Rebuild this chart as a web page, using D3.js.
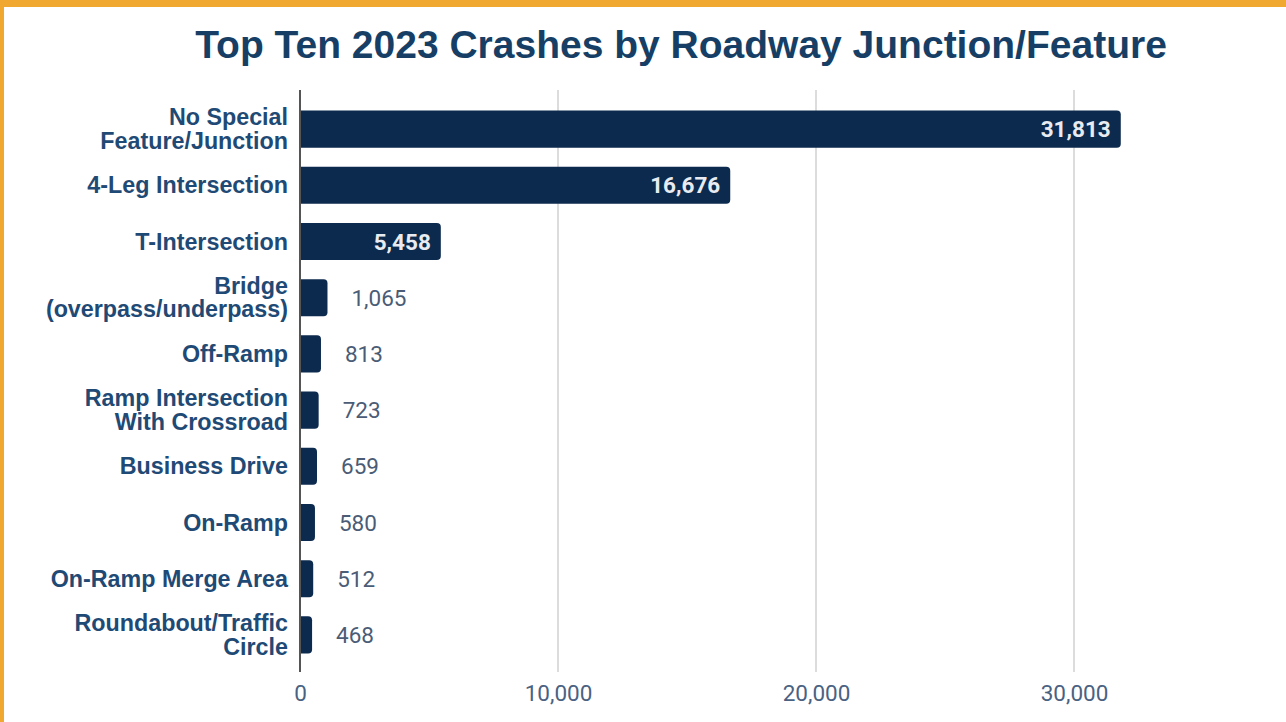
<!DOCTYPE html>
<html>
<head>
<meta charset="utf-8">
<script src="https://cdn.jsdelivr.net/npm/d3@7"></script>
<style>
  body { margin: 0; background: #fff; }
  svg { display: block; }
</style>
</head>
<body>
<div id="chart"></div>
<script>
// data
var categories = [
  ["No Special", "Feature/Junction"],
  ["4-Leg Intersection"],
  ["T-Intersection"],
  ["Bridge", "(overpass/underpass)"],
  ["Off-Ramp"],
  ["Ramp Intersection", "With Crossroad"],
  ["Business Drive"],
  ["On-Ramp"],
  ["On-Ramp Merge Area"],
  ["Roundabout/Traffic", "Circle"]
];
var crashes = [31813, 16676, 5458, 1065, 813, 723, 659, 580, 512, 468];
var xTicks = [0, 10000, 20000, 30000];

var svgWidth = 1286;
var svgHeight = 722;

var margin = { top: 90, right: 40, bottom: 50, left: 300 };
var height = 672 - margin.top;

var svg = d3.select("#chart")
  .append("svg")
  .attr("width", svgWidth)
  .attr("height", svgHeight);

// orange frame (top and left edges)
svg.append("rect").attr("x", 0).attr("y", 0).attr("width", svgWidth).attr("height", 7).attr("fill", "#f0a830");
svg.append("rect").attr("x", 0).attr("y", 0).attr("width", 4).attr("height", svgHeight).attr("fill", "#f0a830");

svg.append("text")
  .attr("x", 681)
  .attr("y", 58)
  .attr("text-anchor", "middle")
  .attr("font-family", "Liberation Sans, Arial, sans-serif")
  .attr("font-weight", "bold")
  .attr("font-size", "39px")
  .attr("fill", "#173f66")
  .text("Top Ten 2023 Crashes by Roadway Junction/Feature");

var chartGroup = svg.append("g")
  .attr("transform", `translate(${margin.left}, ${margin.top})`);

var xScale = d3.scaleLinear()
  .domain([0, 30000])
  .range([0, 774]);

var yScale = d3.scaleBand()
  .domain(d3.range(categories.length))
  .range([11, height - 9])
  .paddingInner(0.34)
  .paddingOuter(0.17);

// gridlines
chartGroup.selectAll("line.grid")
  .data(xTicks.slice(1))
  .enter()
  .append("line")
  .attr("class", "grid")
  .attr("x1", d => xScale(d))
  .attr("x2", d => xScale(d))
  .attr("y1", 0)
  .attr("y2", height)
  .attr("stroke", "#dcdcdc")
  .attr("stroke-width", 2);

// x tick labels
var bottomAxis = d3.axisBottom(xScale)
  .tickValues(xTicks)
  .tickFormat(d3.format(","))
  .tickSize(0)
  .tickPadding(13);

var xAxis = chartGroup.append("g")
  .attr("transform", `translate(0, ${height})`)
  .call(bottomAxis);
xAxis.select(".domain").remove();
xAxis.selectAll("text")
  .attr("font-family", "Roboto, sans-serif")
  .attr("font-size", "22.5px")
  .attr("fill", "#4a6282");

// bars with rounded right end
function barPath(d, i) {
  var y0 = yScale(i), h = yScale.bandwidth(), w = xScale(d), r = Math.min(4, w / 2);
  return `M0,${y0}H${w - r}Q${w},${y0} ${w},${y0 + r}V${y0 + h - r}Q${w},${y0 + h} ${w - r},${y0 + h}H0Z`;
}

chartGroup.selectAll("path.bar")
  .data(crashes)
  .enter()
  .append("path")
  .attr("class", "bar")
  .attr("d", barPath)
  .attr("fill", "#0c2a4d");

// value labels
chartGroup.selectAll("text.value")
  .data(crashes)
  .enter()
  .append("text")
  .attr("class", "value")
  .attr("x", d => d > 3000 ? xScale(d) - 10 : xScale(d) + 24)
  .attr("y", (d, i) => yScale(i) + yScale.bandwidth() / 2 + 8)
  .attr("text-anchor", d => d > 3000 ? "end" : "start")
  .attr("font-family", "Roboto, sans-serif")
  .attr("font-weight", d => d > 3000 ? "bold" : "normal")
  .attr("font-size", "22.5px")
  .attr("fill", d => d > 3000 ? "#e8ecf2" : "#4a5c76")
  .text(d => d3.format(",")(d));

// y axis line
chartGroup.append("line")
  .attr("x1", 0).attr("x2", 0)
  .attr("y1", 0).attr("y2", height)
  .attr("stroke", "#555")
  .attr("stroke-width", 2);

// category labels
var catGroup = chartGroup.selectAll("text.cat")
  .data(categories)
  .enter()
  .append("text")
  .attr("class", "cat")
  .attr("text-anchor", "end")
  .attr("font-family", "Liberation Sans, Arial, sans-serif")
  .attr("font-weight", "bold")
  .attr("font-size", "23.3px")
  .attr("fill", "#1f4a75");

catGroup.each(function(lines, i) {
  var cy = yScale(i) + yScale.bandwidth() / 2;
  var lh = 23.5;
  var start = cy - (lines.length - 1) * lh / 2 + 8;
  d3.select(this).selectAll("tspan")
    .data(lines)
    .enter()
    .append("tspan")
    .attr("x", -12)
    .attr("y", (d, j) => start + j * lh)
    .text(d => d);
});
</script>
</body>
</html>
